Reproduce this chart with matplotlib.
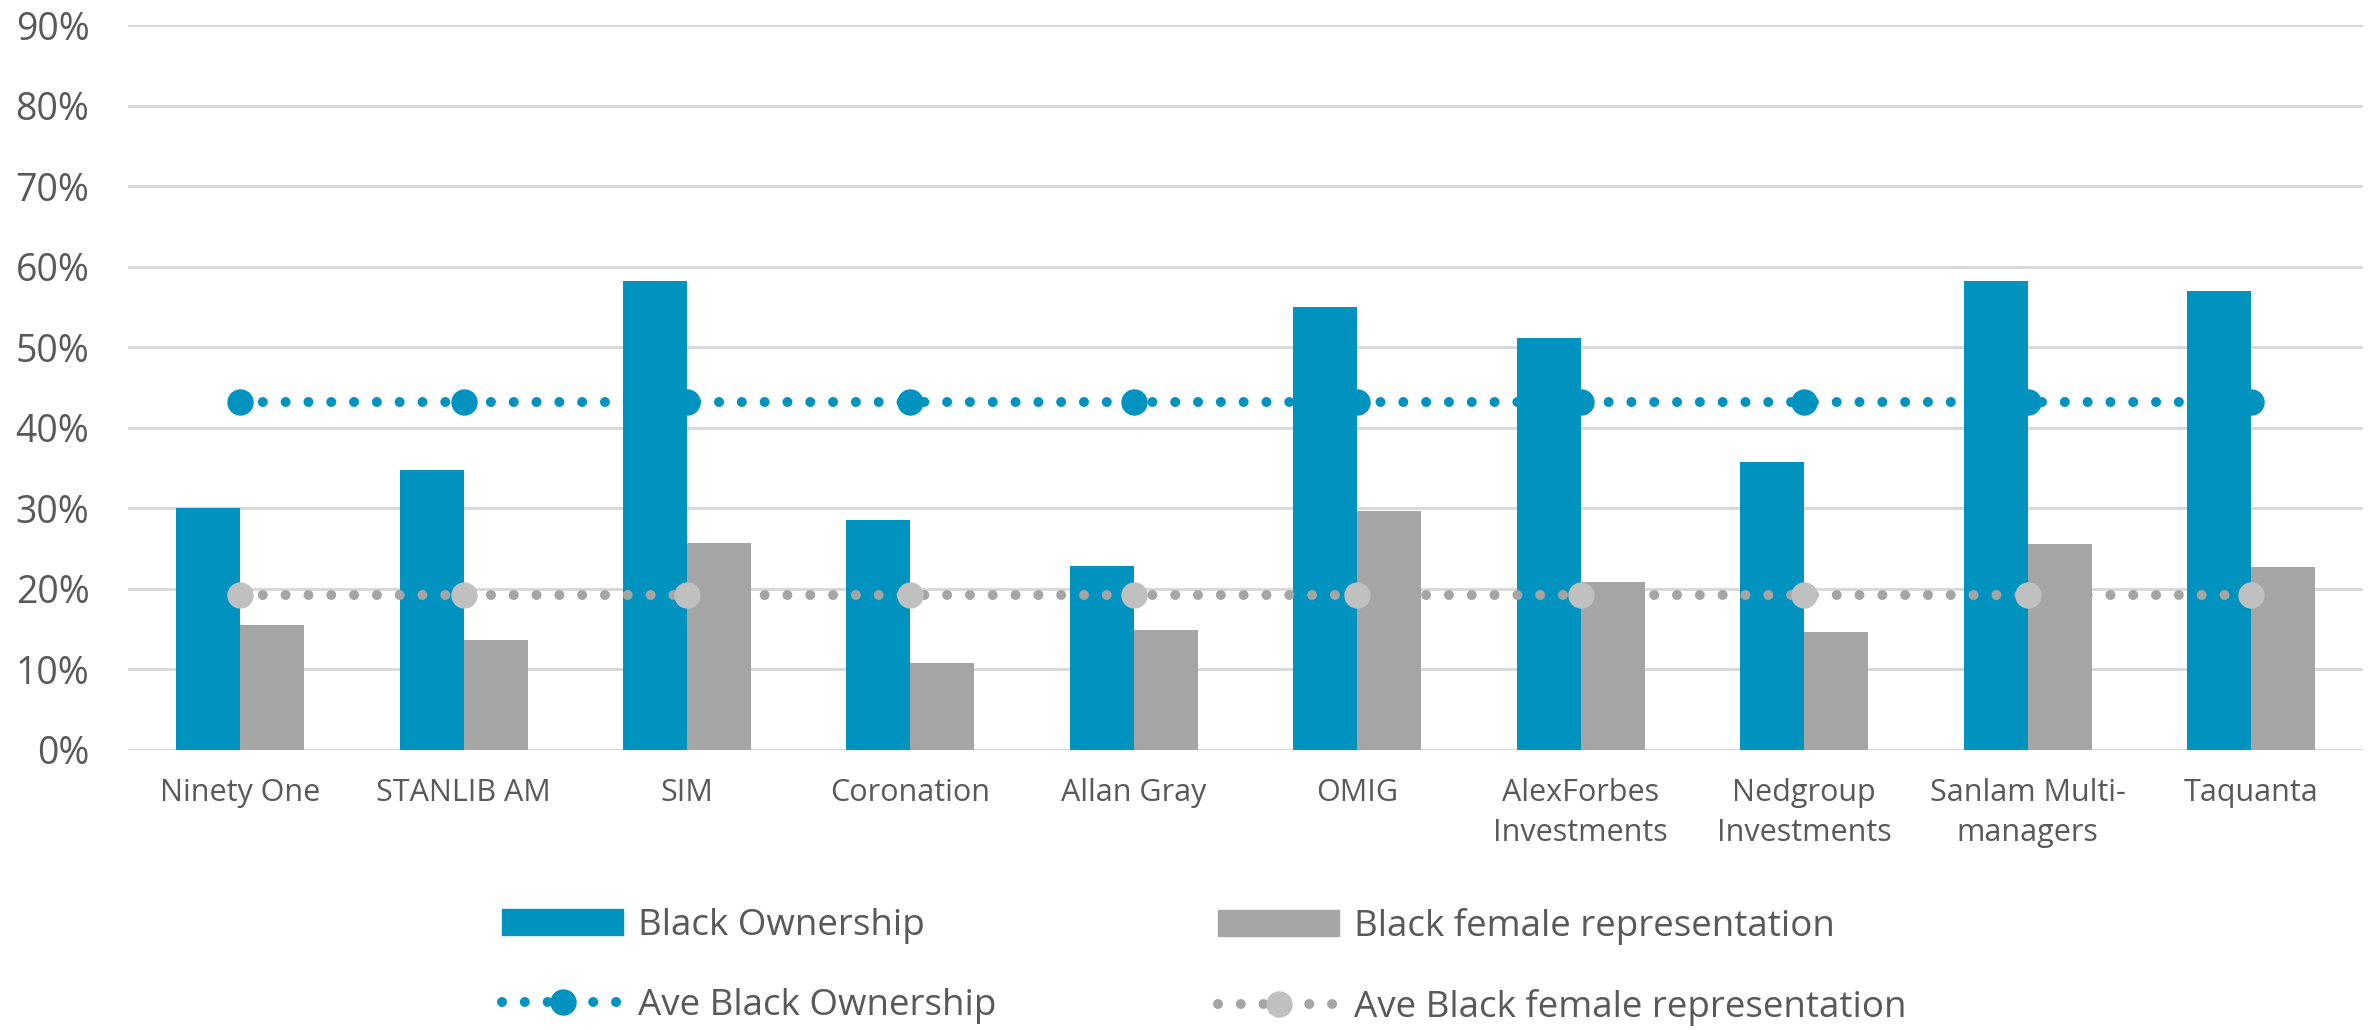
import matplotlib
matplotlib.use("Agg")
import matplotlib.pyplot as plt
from matplotlib.lines import Line2D
from matplotlib.patches import Patch
import numpy as np

categories = ["Ninety One", "STANLIB AM", "SIM", "Coronation", "Allan Gray", "OMIG",
              "AlexForbes\nInvestments", "Nedgroup\nInvestments", "Sanlam Multi-\nmanagers", "Taquanta"]
black_ownership = [30.0, 34.7, 58.2, 28.6, 22.8, 55.0, 51.2, 35.8, 58.2, 57.0]
black_female = [15.5, 13.7, 25.7, 10.8, 14.9, 29.7, 20.9, 14.6, 25.6, 22.7]
ave_black_ownership = [43.2, 43.2, 43.2, 43.2, 43.2, 43.2, 43.2, 43.2, 43.2, 43.2]
ave_black_female = [19.3, 19.3, 19.3, 19.3, 19.3, 19.3, 19.3, 19.3, 19.3, 19.3]
yticks = [0, 10, 20, 30, 40, 50, 60, 70, 80, 90]
ytick_labels = ["0%", "10%", "20%", "30%", "40%", "50%", "60%", "70%", "80%", "90%"]

BLUE = "#0093C0"
GRAY = "#A5A5A5"
LGRAY = "#C0C0C0"
TXT = "#595959"
GRID = "#D9D9D9"

plt.rcParams['font.family'] = ['Open Sans', 'DejaVu Sans']

fig = plt.figure(figsize=(23.76, 10.30), dpi=100)
ax = fig.add_axes([128.3/2376, 1-750/1030, (2363-128.3)/2376, (750-25)/1030])

x = np.arange(len(categories))
w = 0.2864
ax.bar(x - w/2, black_ownership, width=w, color=BLUE, zorder=2, label="Black Ownership")
ax.bar(x + w/2, black_female, width=w, color=GRAY, zorder=2, label="Black female representation")

dot = (0, (0.001, 2.28))
l1, = ax.plot(x, ave_black_ownership, color=BLUE, lw=7.2, ls=dot, dash_capstyle='round',
              marker='o', ms=18, mfc=BLUE, mec=BLUE, zorder=3)
l2, = ax.plot(x, ave_black_female, color=GRAY, lw=7.2, ls=dot, dash_capstyle='round',
              marker='o', ms=18, mfc=LGRAY, mec=LGRAY, zorder=3)

ax.set_xlim(-0.5, len(categories) - 0.5)
ax.set_ylim(0, 90)
ax.set_yticks(yticks)
ax.set_yticklabels(ytick_labels)
ax.set_xticks(x)
ax.set_xticklabels(categories, linespacing=1.45)
ax.tick_params(axis='y', length=0, pad=28, labelsize=27, labelcolor=TXT)
ax.tick_params(axis='x', length=0, pad=20, labelsize=22, labelcolor=TXT)
for s in ax.spines.values():
    s.set_visible(False)
ax.yaxis.grid(True, color=GRID, lw=2.2, zorder=0)
ax.set_axisbelow(True)

h_bo = Patch(color=BLUE)
h_bf = Patch(color=GRAY)
h_abo = Line2D([], [], color=BLUE, lw=7.2, ls=dot, dash_capstyle='round', marker='o', ms=18, mfc=BLUE, mec=BLUE)
h_abf = Line2D([], [], color=GRAY, lw=7.2, ls=dot, dash_capstyle='round', marker='o', ms=18, mfc=LGRAY, mec=LGRAY)

common = dict(frameon=False, fontsize=26.5, handlelength=3.3, handleheight=0.72,
              handletextpad=0.4, labelspacing=1.2, numpoints=1, labelcolor=TXT,
              borderpad=0, borderaxespad=0, loc='upper left')
leg1 = fig.legend([h_bo, h_abo], ["Black Ownership", "Ave Black Ownership"],
                  bbox_to_anchor=(502/2376, 1-908/1030), **common)
leg2 = fig.legend([h_bf, h_abf], ["Black female representation", "Ave Black female representation"],
                  bbox_to_anchor=(1218/2376, 1-908/1030), **common)

fig.savefig("out.png", dpi=100)
